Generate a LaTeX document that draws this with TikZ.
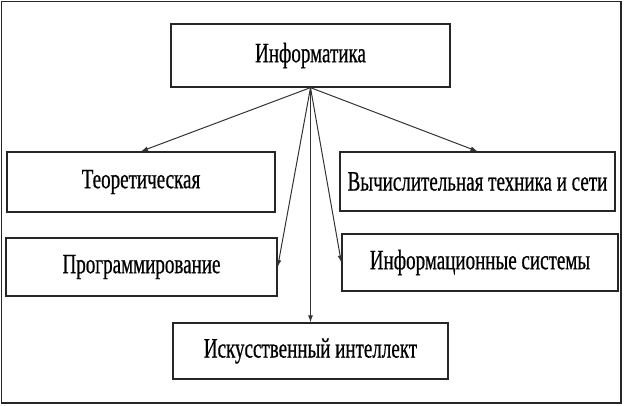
\documentclass[tikz,border=0pt]{standalone}
\usepackage{fontspec}
\setmainfont{Liberation Serif}[FakeStretch=0.68,FakeBold=0.6]
\usetikzlibrary{arrows.meta}

\begin{document}
\begin{tikzpicture}[
  x=1pt,y=-1pt,
  every node/.style={draw=black!85,rectangle,line width=1.3pt,inner sep=0pt,
    font=\fontsize{28}{30}\selectfont},
  link/.style={draw=black!80,line width=1pt,-{Latex[length=7pt,width=5pt]}}
]
  \useasboundingbox (0,0) rectangle (624,406);
  \draw[black!85,line width=1.8pt] (1.5,1.5) rectangle (621,403);

  \node[minimum width=279pt,minimum height=63pt] (inf)  at (310.5,55.5) {Информатика};
  \node[minimum width=268pt,minimum height=60pt] (teor) at (141,182)    {Теоретическая};
  \node[minimum width=275pt,minimum height=59pt] (vych) at (477.5,181.5) {Вычислительная техника и сети};
  \node[minimum width=271pt,minimum height=58pt] (prog) at (141.5,267)  {Программирование};
  \node[minimum width=276pt,minimum height=57pt] (isys) at (480,262.5)  {Информационные системы};
  \node[minimum width=275pt,minimum height=56pt] (ai)   at (310.5,351)  {Искусственный интеллект};

  \draw[link] (inf.south) -- (teor.north);
  \draw[link] (inf.south) -- (vych.north);
  \draw[link] (inf.south) -- (prog.east);
  \draw[link] (inf.south) -- (isys.west);
  \draw[link] (inf.south) -- (ai.north);
\end{tikzpicture}
\end{document}
